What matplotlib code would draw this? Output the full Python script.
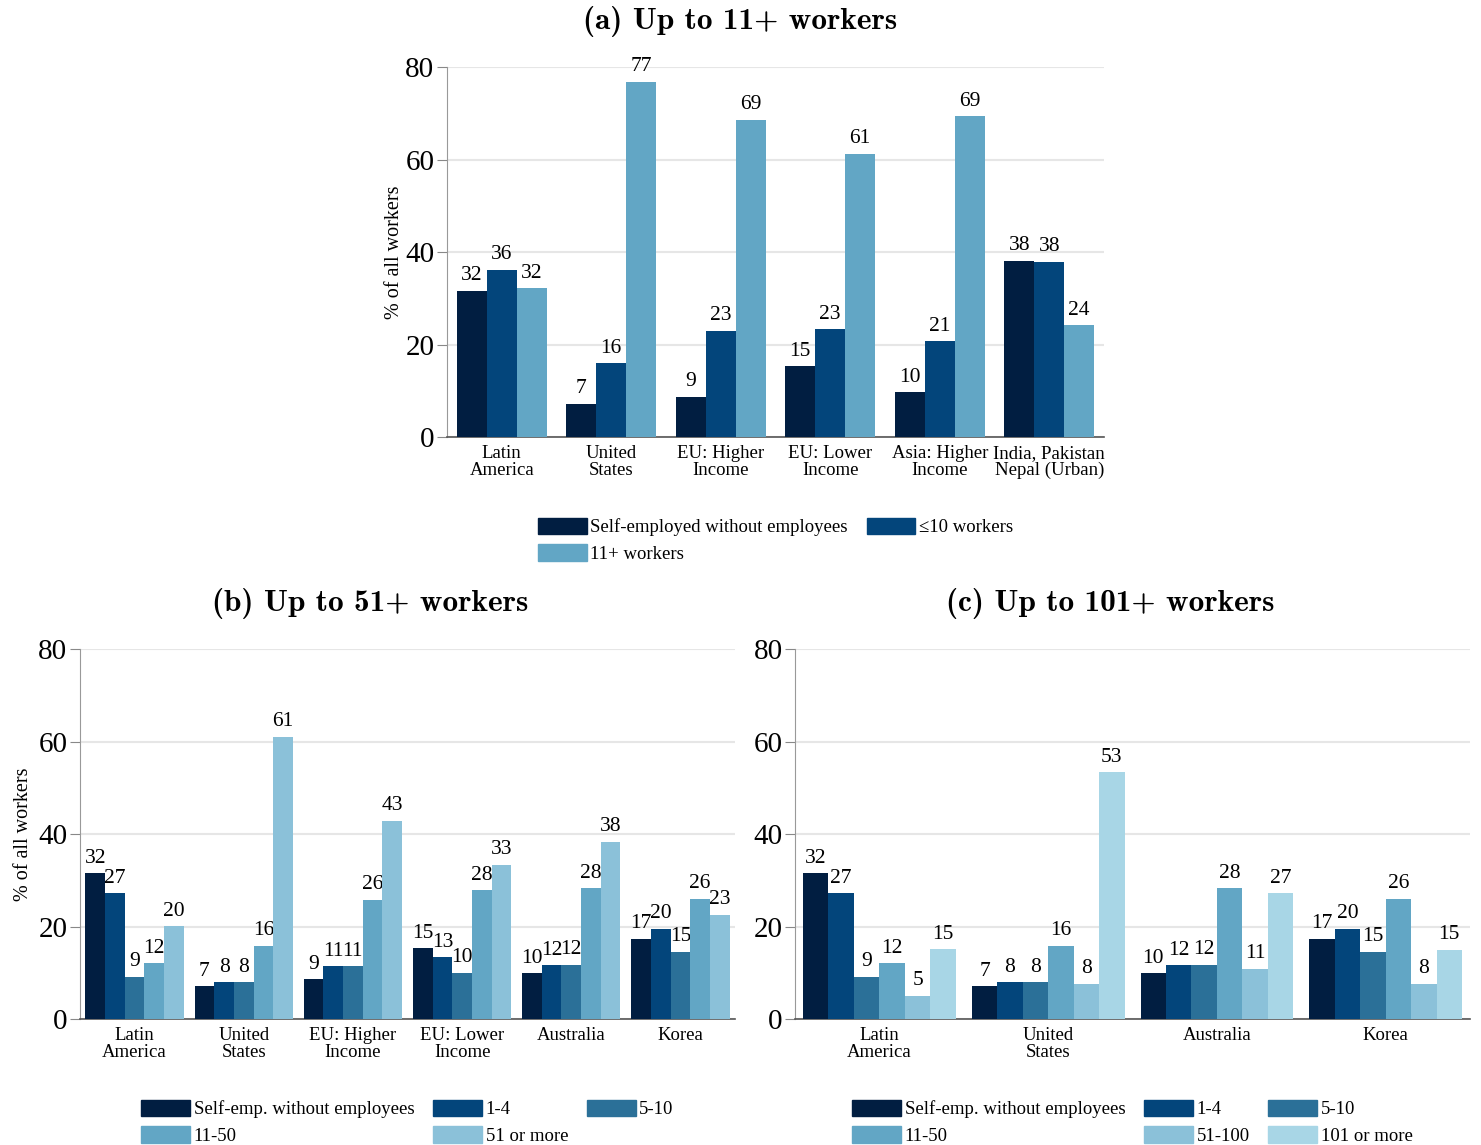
import numpy as np
import matplotlib
matplotlib.use('Agg')
import matplotlib.pyplot as plt
from matplotlib.patches import Patch

plt.rcParams['font.family'] = ['Liberation Serif', 'DejaVu Serif']

colors = ['#011e41', '#03457b', '#2b7098', '#62a6c5', '#8bc1d9', '#a8d6e6']

# panel (a): three firm-size classes
regions_a = ['Latin\nAmerica', 'United\nStates', 'EU: Higher\nIncome', 'EU: Lower\nIncome',
             'Asia: Higher\nIncome', 'India, Pakistan\nNepal (Urban)']
series_a = ['Self-employed without employees', '\u226410 workers', '11+ workers']
self_a = [31.6, 7.2, 8.7, 15.3, 9.7, 38.1]
small_a = [36.2, 16.0, 23.0, 23.3, 20.7, 37.9]
large_a = [32.2, 76.8, 68.6, 61.3, 69.4, 24.2]

# panel (b): five classes, up to 51+
regions_b = ['Latin\nAmerica', 'United\nStates', 'EU: Higher\nIncome', 'EU: Lower\nIncome',
             'Australia', 'Korea']
series_b = ['Self-emp. without employees', '1-4', '5-10', '11-50', '51 or more']
self_b = [31.5, 7.1, 8.6, 15.3, 9.9, 17.3]
s14_b = [27.2, 8.0, 11.4, 13.4, 11.6, 19.5]
s510_b = [9.1, 8.0, 11.4, 10.0, 11.7, 14.6]
s1150_b = [12.1, 15.8, 25.8, 27.8, 28.3, 26.0]
s51_b = [20.1, 61.0, 42.9, 33.4, 38.3, 22.6]

# panel (c): six classes, up to 101+
regions_c = ['Latin\nAmerica', 'United\nStates', 'Australia', 'Korea']
series_c = ['Self-emp. without employees', '1-4', '5-10', '11-50', '51-100', '101 or more']
self_c = [31.5, 7.1, 9.9, 17.3]
s14_c = [27.2, 8.0, 11.6, 19.5]
s510_c = [9.1, 8.0, 11.7, 14.6]
s1150_c = [12.1, 15.8, 28.3, 26.0]
s51100_c = [5.0, 7.6, 10.9, 7.6]
s101_c = [15.1, 53.4, 27.2, 15.0]

fig = plt.figure(figsize=(14.81, 11.45), dpi=100)


def grouped(ax, cats, data, cols, labels, group_w, order, ylabel=True, ylpad=8):
    n = len(data)
    w = group_w / n
    x = np.arange(len(cats))
    for i, vals in enumerate(data):
        pos = x - group_w / 2 + w * (i + 0.5)
        bars = ax.bar(pos, vals, width=w, color=cols[i], label=labels[i], zorder=3)
        for b, v in zip(bars, vals):
            ax.text(b.get_x() + b.get_width() / 2, v + 1.2, f'{v:.0f}',
                    ha='center', va='bottom', fontsize=15.5)
    ax.set_xlim(-0.5, len(cats) - 0.5)
    ax.set_ylim(0, 80)
    ax.set_yticks([0, 20, 40, 60, 80])
    ax.tick_params(axis='y', labelsize=21, length=7, color='#888888', pad=2)
    ax.set_xticks(x)
    ax.set_xticklabels(cats, fontsize=13.5, linespacing=0.95)
    ax.tick_params(axis='x', length=0, pad=6)
    ax.yaxis.grid(True, color='#e6e6e6', linewidth=1.5, zorder=0)
    ax.set_axisbelow(True)
    for s in ['top', 'right']:
        ax.spines[s].set_visible(False)
    ax.spines['left'].set_color('#999999')
    ax.spines['bottom'].set_color('#555555')
    ax.spines['bottom'].set_linewidth(1.2)
    if ylabel:
        ax.set_ylabel('% of all workers', fontsize=14.5, labelpad=ylpad)
    handles = [Patch(color=cols[i], label=labels[i]) for i in range(n)]
    ncol = 2 if n == 3 else 3
    ax.legend([handles[k] for k in order], [labels[k] for k in order],
              loc='upper center', bbox_to_anchor=(0.5, -0.172), ncol=ncol,
              frameon=False, fontsize=13.5, handlelength=2.6, handleheight=1.0,
              handletextpad=0.2, labelspacing=0.4, columnspacing=1.0)


ax_a = fig.add_axes([0.3018, 0.6183, 0.4436, 0.3231])
grouped(ax_a, regions_a, [self_a, small_a, large_a], [colors[0], colors[1], colors[3]],
        series_a, 0.82, [0, 2, 1], ylpad=1)

ax_b = fig.add_axes([0.054, 0.110, 0.4423, 0.3231])
grouped(ax_b, regions_b, [self_b, s14_b, s510_b, s1150_b, s51_b], colors[:5],
        series_b, 0.9, [0, 3, 1, 4, 2], ylpad=4)

ax_c = fig.add_axes([0.5368, 0.110, 0.4558, 0.3231])
grouped(ax_c, regions_c, [self_c, s14_c, s510_c, s1150_c, s51100_c, s101_c], colors,
        series_c, 0.905, [0, 3, 1, 4, 2, 5], ylabel=False)

title_kw = dict(ha='center', va='center', fontsize=22.5, family='cmb10')
fig.text(0.5, 0.981, '(a) Up to 11+ workers', **title_kw)
fig.text(0.25, 0.473, '(b) Up to 51+ workers', **title_kw)
fig.text(0.75, 0.473, '(c) Up to 101+ workers', **title_kw)

fig.savefig('out.png', dpi=100)
